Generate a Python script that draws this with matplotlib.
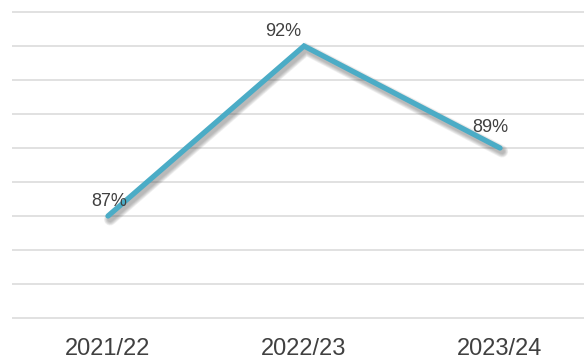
import numpy as np
import matplotlib.pyplot as plt
import matplotlib.patheffects as pe

years = ['2021/22', '2022/23', '2023/24']
rates = [87, 92, 89]
labels = ['87%', '92%', '89%']

# label nudges in pixels (dx, dy)
label_offsets = [(1, 15), (-21, 14), (-10, 20)]

W, H = 584, 361
fig = plt.figure(figsize=(W / 100, H / 100), dpi=100)

y_lo, y_hi = 83.9, 93.1
px_per_unit_y = 34.0
top_px = 12 - (y_hi - 93) * px_per_unit_y
bot_px = 318 + (84 - y_lo) * px_per_unit_y
left_px, right_px = 12, 584
ax = fig.add_axes([left_px / W, 1 - bot_px / H,
                   (right_px - left_px) / W, (bot_px - top_px) / H])

x = np.arange(len(years))
px_per_unit_x = 196.0
ax.set_xlim((left_px - 108) / px_per_unit_x, (right_px - 108) / px_per_unit_x)
ax.set_ylim(y_lo, y_hi)

# horizontal gridlines
for v in range(84, 94):
    ax.axhline(v, color='#d9d9d9', lw=1.1, zorder=1)

# soft drop shadow: stack of faint, progressively wider strokes
lw = 3.8
shadow = [pe.SimpleLineShadow(offset=(1.5, -2.5), shadow_color='#404040',
                              alpha=0.07, rho=1.0, linewidth=lw + w)
          for w in (5, 4, 3, 2, 1, 0)]
ax.plot(x, rates, color='#4bacc6', lw=lw, solid_capstyle='round',
        solid_joinstyle='miter', zorder=3,
        path_effects=shadow + [pe.Normal()])

for xi, yi, lab, (dx, dy) in zip(x, rates, labels, label_offsets):
    ax.annotate(lab, (xi, yi), xytext=(dx * 0.72, dy * 0.72),
                textcoords='offset points', ha='center', va='center',
                fontsize=13, color='#404040', family='Liberation Sans', zorder=4)

ax.set_xticks(x)
ax.set_xticklabels(years, fontsize=17, color='#404040', family='Liberation Sans')
ax.tick_params(axis='x', length=0, pad=12)
ax.set_yticks([])
for s in ax.spines.values():
    s.set_visible(False)

fig.savefig('out.png', dpi=100)
